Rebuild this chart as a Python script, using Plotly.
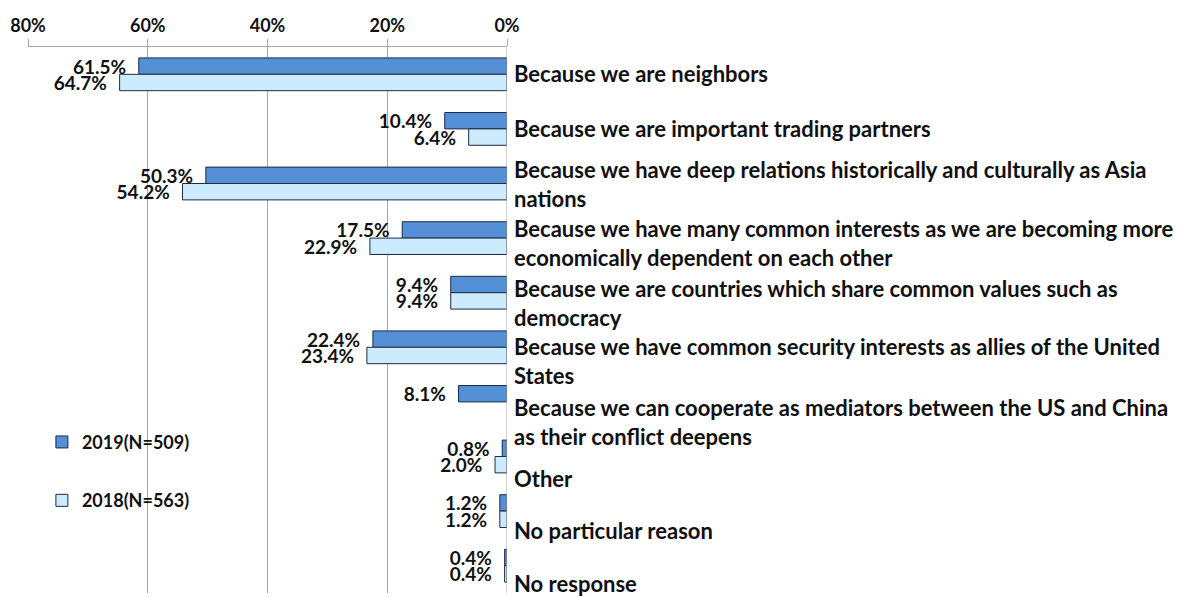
import plotly.graph_objects as go

# Daten
categories = [
    "Because we are neighbors",
    "Because we are important trading partners",
    "Because we have deep relations historically and culturally as Asia<br>nations",
    "Because we have many common interests as we are becoming more<br>economically dependent on each other",
    "Because we are countries which share common values such as<br>democracy",
    "Because we have common security interests as allies of the United<br>States",
    "Because we can cooperate as mediators between the US and China<br>as their conflict deepens",
    "Other",
    "No particular reason",
    "No response",
]
values_2019 = [61.5, 10.4, 50.3, 17.5, 9.4, 22.4, 8.1, 0.8, 1.2, 0.4]
values_2018 = [64.7, 6.4, 54.2, 22.9, 9.4, 23.4, None, 2.0, 1.2, 0.4]
series_names = ["2019(N=509)", "2018(N=563)"]
tick_vals = [80, 60, 40, 20, 0]
tick_text = ["80%", "60%", "40%", "20%", "0%"]

# Beschriftungen etwas nach unten versetzt (wie im Original)
label_shift = [1, 0, 0, -5, -10, -14, -20, -22, -19, -18]

FONT = "Lato, Open Sans, sans-serif"
COLOR_2019 = "#5590D6"
COLOR_2018 = "#CCEBFF"
EDGE = "#1F2A44"
GRID = "#A6A6A6"

ids = list(range(len(categories)))

fig = go.Figure()
for name, vals, col in [(series_names[0], values_2019, COLOR_2019),
                        (series_names[1], values_2018, COLOR_2018)]:
    fig.add_trace(go.Bar(
        y=ids,
        x=vals,
        orientation="h",
        name=f"<b>{name}</b>",
        legendgroup=name,
        marker=dict(color=col, line=dict(color=EDGE, width=1)),
        text=[f"<b>{v:.1f}%</b>\u00a0\u00a0" if v is not None else "" for v in vals],
        textposition="outside",
        constraintext="none",
        textfont=dict(family=FONT, size=19, color="#111111"),
        cliponaxis=False,
    ))

# Kategorie-Beschriftungen rechts von 0%
for i, (cat, shift) in enumerate(zip(categories, label_shift)):
    fig.add_annotation(
        x=0, y=i, xref="x", yref="y",
        text="<b>" + cat.replace("<br>", "</b><br><b>") + "</b>",
        showarrow=False,
        xanchor="left", yanchor="middle", align="left",
        xshift=5, yshift=shift,
        font=dict(family=FONT, size=22, color="#111111"),
    )

# Body-Rand (8px) der HTML-Seite ist in den Margins beruecksichtigt
fig.update_layout(
    width=1187,
    height=597,
    paper_bgcolor="white",
    plot_bgcolor="white",
    barmode="group",
    bargap=0.4,
    bargroupgap=0,
    margin=dict(l=20, r=688, t=39, b=12),
    font=dict(family=FONT, color="#111111"),
    showlegend=True,
    legend=dict(
        x=0.029, y=0.31, xanchor="left", yanchor="top",
        bgcolor="rgba(0,0,0,0)",
        font=dict(family=FONT, size=18, color="#111111"),
        tracegroupgap=32,
        itemwidth=30,
    ),
    xaxis=dict(
        side="top",
        range=[80, 0],
        automargin=False,
        tickvals=tick_vals,
        ticktext=[f"<b>{t}</b>" for t in tick_text],
        tickfont=dict(family=FONT, size=18, color="#111111"),
        showgrid=True,
        gridcolor=GRID,
        gridwidth=1,
        showline=True,
        linecolor=GRID,
        ticks="outside",
        ticklen=7,
        tickcolor=GRID,
        zeroline=False,
    ),
    yaxis=dict(
        range=[9.5, -0.5],
        automargin=False,
        showticklabels=False,
        showgrid=False,
        zeroline=False,
        showline=False,
    ),
)
fig.add_vline(x=0, line_color=GRID, line_width=1)

fig.write_html("out.html")
